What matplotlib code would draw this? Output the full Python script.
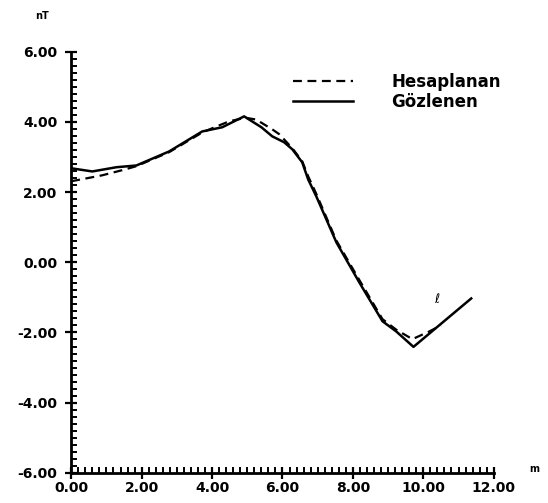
import matplotlib
matplotlib.use("Agg")
import matplotlib.pyplot as plt
from matplotlib.ticker import MultipleLocator, FormatStrFormatter

# observed profile (Gözlenen)
x_obs = [0.0, 0.60, 1.28, 1.85, 2.78, 3.72, 4.29, 4.91, 5.40, 5.71, 6.05, 6.28, 6.56,
         6.73, 6.96, 7.53, 8.18, 8.84, 9.23, 9.72, 11.36]
y_obs = [2.68, 2.59, 2.71, 2.76, 3.16, 3.73, 3.85, 4.16, 3.85, 3.59, 3.42, 3.22, 2.85,
         2.36, 1.88, 0.57, -0.57, -1.68, -1.97, -2.41, -1.03]

# calculated profile (Hesaplanan)
x_calc = [0.0, 0.88, 1.50, 1.85, 2.78, 3.72, 4.12, 4.49, 4.95, 5.25, 5.71,
          5.91, 6.28, 6.56, 6.73, 6.96, 7.53, 8.18, 8.84, 9.23, 9.69, 10.17, 10.50]
y_calc = [2.31, 2.48, 2.64, 2.74, 3.14, 3.70, 3.87, 4.02, 4.12, 4.07, 3.79,
          3.65, 3.25, 2.88, 2.45, 1.95, 0.62, -0.50, -1.62, -1.92, -2.19, -1.97, -1.80]

xticks = [0, 2, 4, 6, 8, 10, 12]
yticks = [-6, -4, -2, 0, 2, 4, 6]

fig = plt.figure(figsize=(5.48, 5.03), dpi=100)
ax = fig.add_axes([0.13, 0.06, 0.771, 0.837])

ax.plot(x_calc, y_calc, color="black", lw=1.6, linestyle=(0, (4, 2.5)),
        label="Hesaplanan")
ax.plot(x_obs, y_obs, color="black", lw=1.8, label="Gözlenen")

ax.set_xlim(0, 12)
ax.set_ylim(-6, 6)
ax.set_xticks(xticks)
ax.set_yticks(yticks)
ax.xaxis.set_minor_locator(MultipleLocator(0.2))
ax.yaxis.set_minor_locator(MultipleLocator(0.2))
ax.xaxis.set_major_formatter(FormatStrFormatter("%.2f"))
ax.yaxis.set_major_formatter(FormatStrFormatter("%.2f"))

for s in ["top", "right"]:
    ax.spines[s].set_visible(False)
for s in ["left", "bottom"]:
    ax.spines[s].set_linewidth(2)

ax.tick_params(which="major", direction="inout", length=8, width=1.6,
               labelsize=10, pad=2)
ax.tick_params(axis="y", which="major", pad=6)
ax.tick_params(which="minor", direction="in", length=4, width=1.4)
for lab in ax.get_xticklabels() + ax.get_yticklabels():
    lab.set_fontweight("bold")

ax.text(-0.07, 1.085, "nT", transform=ax.transAxes, fontsize=7,
        fontweight="bold", ha="center", va="center")
ax.text(1.095, 0.01, "m", transform=ax.transAxes, fontsize=7,
        fontweight="bold", ha="center", va="center")
ax.text(10.37, -1.05, "ℓ", fontsize=9, ha="center", va="center",
        style="italic")

leg = ax.legend(loc="upper left", bbox_to_anchor=(0.49, 0.985), frameon=False,
                handlelength=3.6, handletextpad=2.3, labelspacing=0.1,
                prop={"size": 12, "weight": "bold"})

fig.savefig("out.png", dpi=100)
